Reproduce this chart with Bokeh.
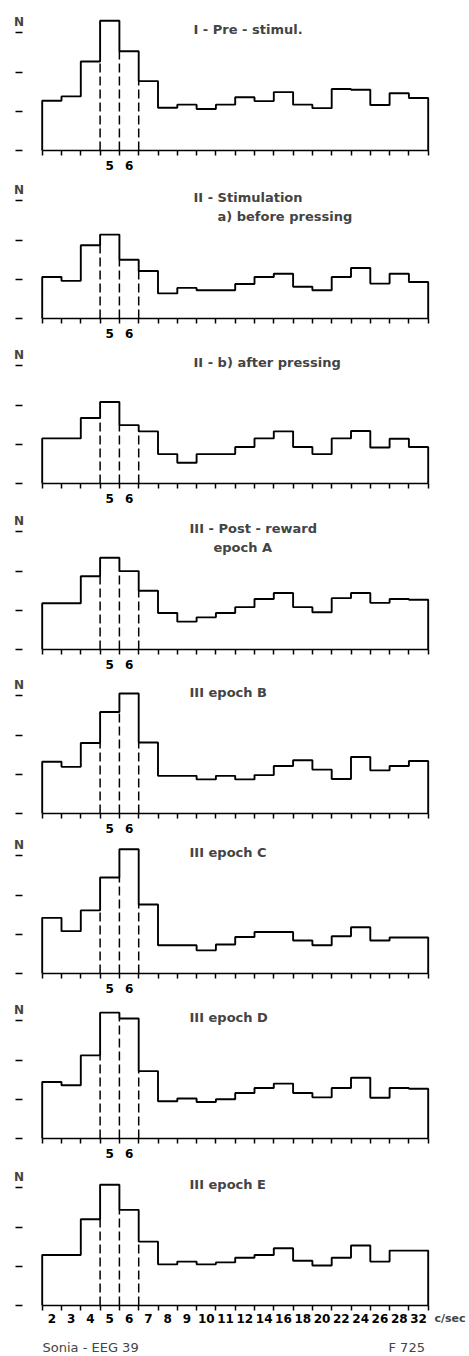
import numpy as np
from bokeh.plotting import figure
from bokeh.models import Range1d, FixedTicker, Label
from bokeh.layouts import column
from bokeh.embed import file_html
from bokeh.resources import INLINE

# ---------------- data ----------------
freq_labels = ["2", "3", "4", "5", "6", "7", "8", "9", "10", "11",
               "12", "14", "16", "18", "20", "22", "24", "26", "28", "32"]

hist_I    = [1.27, 1.38, 2.27, 3.31, 2.53, 1.77, 1.09, 1.17, 1.06, 1.17,
             1.36, 1.26, 1.49, 1.17, 1.08, 1.57, 1.55, 1.16, 1.46, 1.34]
hist_IIa  = [1.06, 0.96, 1.87, 2.14, 1.50, 1.21, 0.64, 0.78, 0.72, 0.72,
             0.88, 1.06, 1.14, 0.81, 0.72, 1.06, 1.29, 0.89, 1.14, 0.93]
hist_IIb  = [1.15, 1.15, 1.67, 2.08, 1.49, 1.33, 0.75, 0.53, 0.75, 0.75,
             0.93, 1.15, 1.33, 0.93, 0.75, 1.15, 1.34, 0.92, 1.14, 0.93]
hist_IIIA = [1.18, 1.18, 1.87, 2.34, 2.00, 1.50, 0.93, 0.71, 0.82, 0.93,
             1.08, 1.29, 1.44, 1.08, 0.95, 1.31, 1.44, 1.19, 1.29, 1.27]
hist_IIIB = [1.32, 1.19, 1.80, 2.59, 3.06, 1.81, 0.96, 0.96, 0.87, 0.96,
             0.87, 0.98, 1.21, 1.36, 1.12, 0.88, 1.44, 1.10, 1.21, 1.34]
hist_IIIC = [1.42, 1.08, 1.61, 2.45, 3.17, 1.76, 0.72, 0.72, 0.59, 0.74,
             0.93, 1.06, 1.06, 0.84, 0.72, 0.95, 1.18, 0.84, 0.92, 0.92]
hist_IIID = [1.44, 1.36, 2.12, 3.21, 3.06, 1.72, 0.95, 1.02, 0.93, 1.00,
             1.16, 1.29, 1.40, 1.16, 1.05, 1.29, 1.55, 1.04, 1.29, 1.27]
hist_IIIE = [1.29, 1.29, 2.20, 3.08, 2.44, 1.63, 1.05, 1.12, 1.05, 1.10,
             1.22, 1.29, 1.46, 1.14, 1.02, 1.22, 1.53, 1.12, 1.40, 1.40]

panel_values = [hist_I, hist_IIa, hist_IIb, hist_IIIA,
                hist_IIIB, hist_IIIC, hist_IIID, hist_IIIE]
panel_title1 = ["I - Pre - stimul.", "II - Stimulation", "II - b) after pressing",
                "III - Post - reward", "III  epoch B", "III  epoch C",
                "III  epoch D", "III  epoch E"]
panel_title2 = [None, "a) before pressing", None, "epoch A", None, None, None, None]
y_tick_values = [0, 1, 2, 3]
y_label = "N"
x_unit_label = "c/sec"
caption_left = "Sonia - EEG 39"
caption_right = "F 725"
marked_bins = ["5", "6"]

# ---------------- layout constants (page pixels) ----------------
FONT = "DejaVu Sans"
PX_PER_UNIT = 39.2
BIN_PX = 19.3
HIST_LEFT = 41.7
FIG_W = 468
PAGE_BOTTOM = 1355
BASELINES = [150, 318, 483, 649, 813, 973, 1138, 1305]
GAP_BELOW = 24

n = len(freq_labels)
edges = np.arange(n + 1)
centers = edges[:-1] + 0.5

def px_to_x(px):
    return (px - HIST_LEFT) / BIN_PX

x0 = px_to_x(0)
x1 = px_to_x(FIG_W)

i5 = freq_labels.index(marked_bins[0])
i6 = freq_labels.index(marked_bins[1])
dash_edges = [i5, i6, i6 + 1]

tops = [0] + [b + GAP_BELOW for b in BASELINES[:-1]]
bottoms = tops[1:] + [PAGE_BOTTOM]

figs = []
for k, vals in enumerate(panel_values):
    last = k == len(panel_values) - 1
    h = np.array(vals)
    base = BASELINES[k]
    top, bot = tops[k], bottoms[k]
    fig_h = bot - top

    p = figure(width=FIG_W, height=fig_h, output_backend="svg", toolbar_location=None,
               x_range=Range1d(x0, x1),
               y_range=Range1d(-(bot - base) / PX_PER_UNIT, (base - top) / PX_PER_UNIT),
               min_border_left=0, min_border_right=0, min_border_top=0,
               min_border_bottom=0)
    p.outline_line_color = None
    p.grid.visible = False
    p.background_fill_color = "white"
    p.border_fill_color = "white"

    # x axis: ticks at bin edges (minor), labels at bin centres (major)
    if last:
        lab_pos = list(centers)
        lab_txt = freq_labels
    else:
        lab_pos = [centers[i5], centers[i6]]
        lab_txt = [freq_labels[i5], freq_labels[i6]]
    xa = p.xaxis[0]
    xa.fixed_location = 0
    xa.ticker = FixedTicker(ticks=lab_pos, minor_ticks=list(edges))
    xa.major_label_overrides = {float(pos): t for pos, t in zip(lab_pos, lab_txt)}
    xa.bounds = (0, n)
    xa.axis_line_width = 1.7
    xa.axis_line_color = "black"
    xa.major_tick_line_color = None
    xa.major_tick_out = 0
    xa.major_tick_in = 0
    xa.minor_tick_out = 5
    xa.minor_tick_in = 0
    xa.minor_tick_line_width = 1.5
    xa.minor_tick_line_color = "black"
    xa.major_label_standoff = 3 if last else 5
    xa.major_label_text_font = FONT
    xa.major_label_text_font_style = "bold"
    xa.major_label_text_font_size = "12px"
    xa.major_label_text_color = "black"

    # y axis: short detached dashes
    ya = p.yaxis[0]
    ya.fixed_location = px_to_x(15)
    ya.ticker = FixedTicker(ticks=y_tick_values, minor_ticks=[])
    ya.major_label_overrides = {v: "" for v in y_tick_values}
    ya.axis_line_color = None
    ya.major_tick_in = 7
    ya.major_tick_out = 0
    ya.major_tick_line_width = 1.6
    ya.major_tick_line_color = "black"
    ya.minor_tick_line_color = None
    ya.major_label_standoff = 0

    # histogram outline
    xs = np.repeat(edges, 2)
    ys = np.concatenate([[0.0], np.repeat(h, 2), [0.0]])
    p.line(xs, ys, line_color="black", line_width=1.9)

    # dashed lines at the 5 and 6 c/sec bins
    dy = [min(h[e - 1], h[e]) for e in dash_edges]
    p.segment(x0=dash_edges, y0=[0] * 3, x1=dash_edges, y1=dy,
              line_color="black", line_width=1.5, line_dash="9 4")

    # labels
    p.add_layout(Label(x=px_to_x(18.5), y=129 / PX_PER_UNIT, text=y_label,
                       text_font=FONT, text_font_style="bold", text_font_size="12px",
                       text_align="center", text_baseline="middle"))
    tx = px_to_x(193) if k < 3 else px_to_x(189)
    p.add_layout(Label(x=tx, y=121 / PX_PER_UNIT, text=panel_title1[k],
                       text_font=FONT, text_font_style="bold", text_font_size="13px",
                       text_align="left", text_baseline="middle"))
    if panel_title2[k]:
        tx2 = px_to_x(217) if k == 1 else px_to_x(213)
        p.add_layout(Label(x=tx2, y=102 / PX_PER_UNIT, text=panel_title2[k],
                           text_font=FONT, text_font_style="bold", text_font_size="13px",
                           text_align="left", text_baseline="middle"))
    if last:
        p.add_layout(Label(x=px_to_x(434), y=-13 / PX_PER_UNIT, text=x_unit_label,
                           text_font=FONT, text_font_style="bold", text_font_size="11px",
                           text_align="left", text_baseline="middle"))
        p.add_layout(Label(x=px_to_x(42), y=-42 / PX_PER_UNIT, text=caption_left,
                           text_font=FONT, text_font_size="13px",
                           text_align="left", text_baseline="middle"))
        p.add_layout(Label(x=px_to_x(388), y=-42 / PX_PER_UNIT, text=caption_right,
                           text_font=FONT, text_font_size="13px",
                           text_align="left", text_baseline="middle"))
    figs.append(p)

layout = column(*figs, spacing=0)
open("out.html", "w").write(file_html(layout, INLINE))
